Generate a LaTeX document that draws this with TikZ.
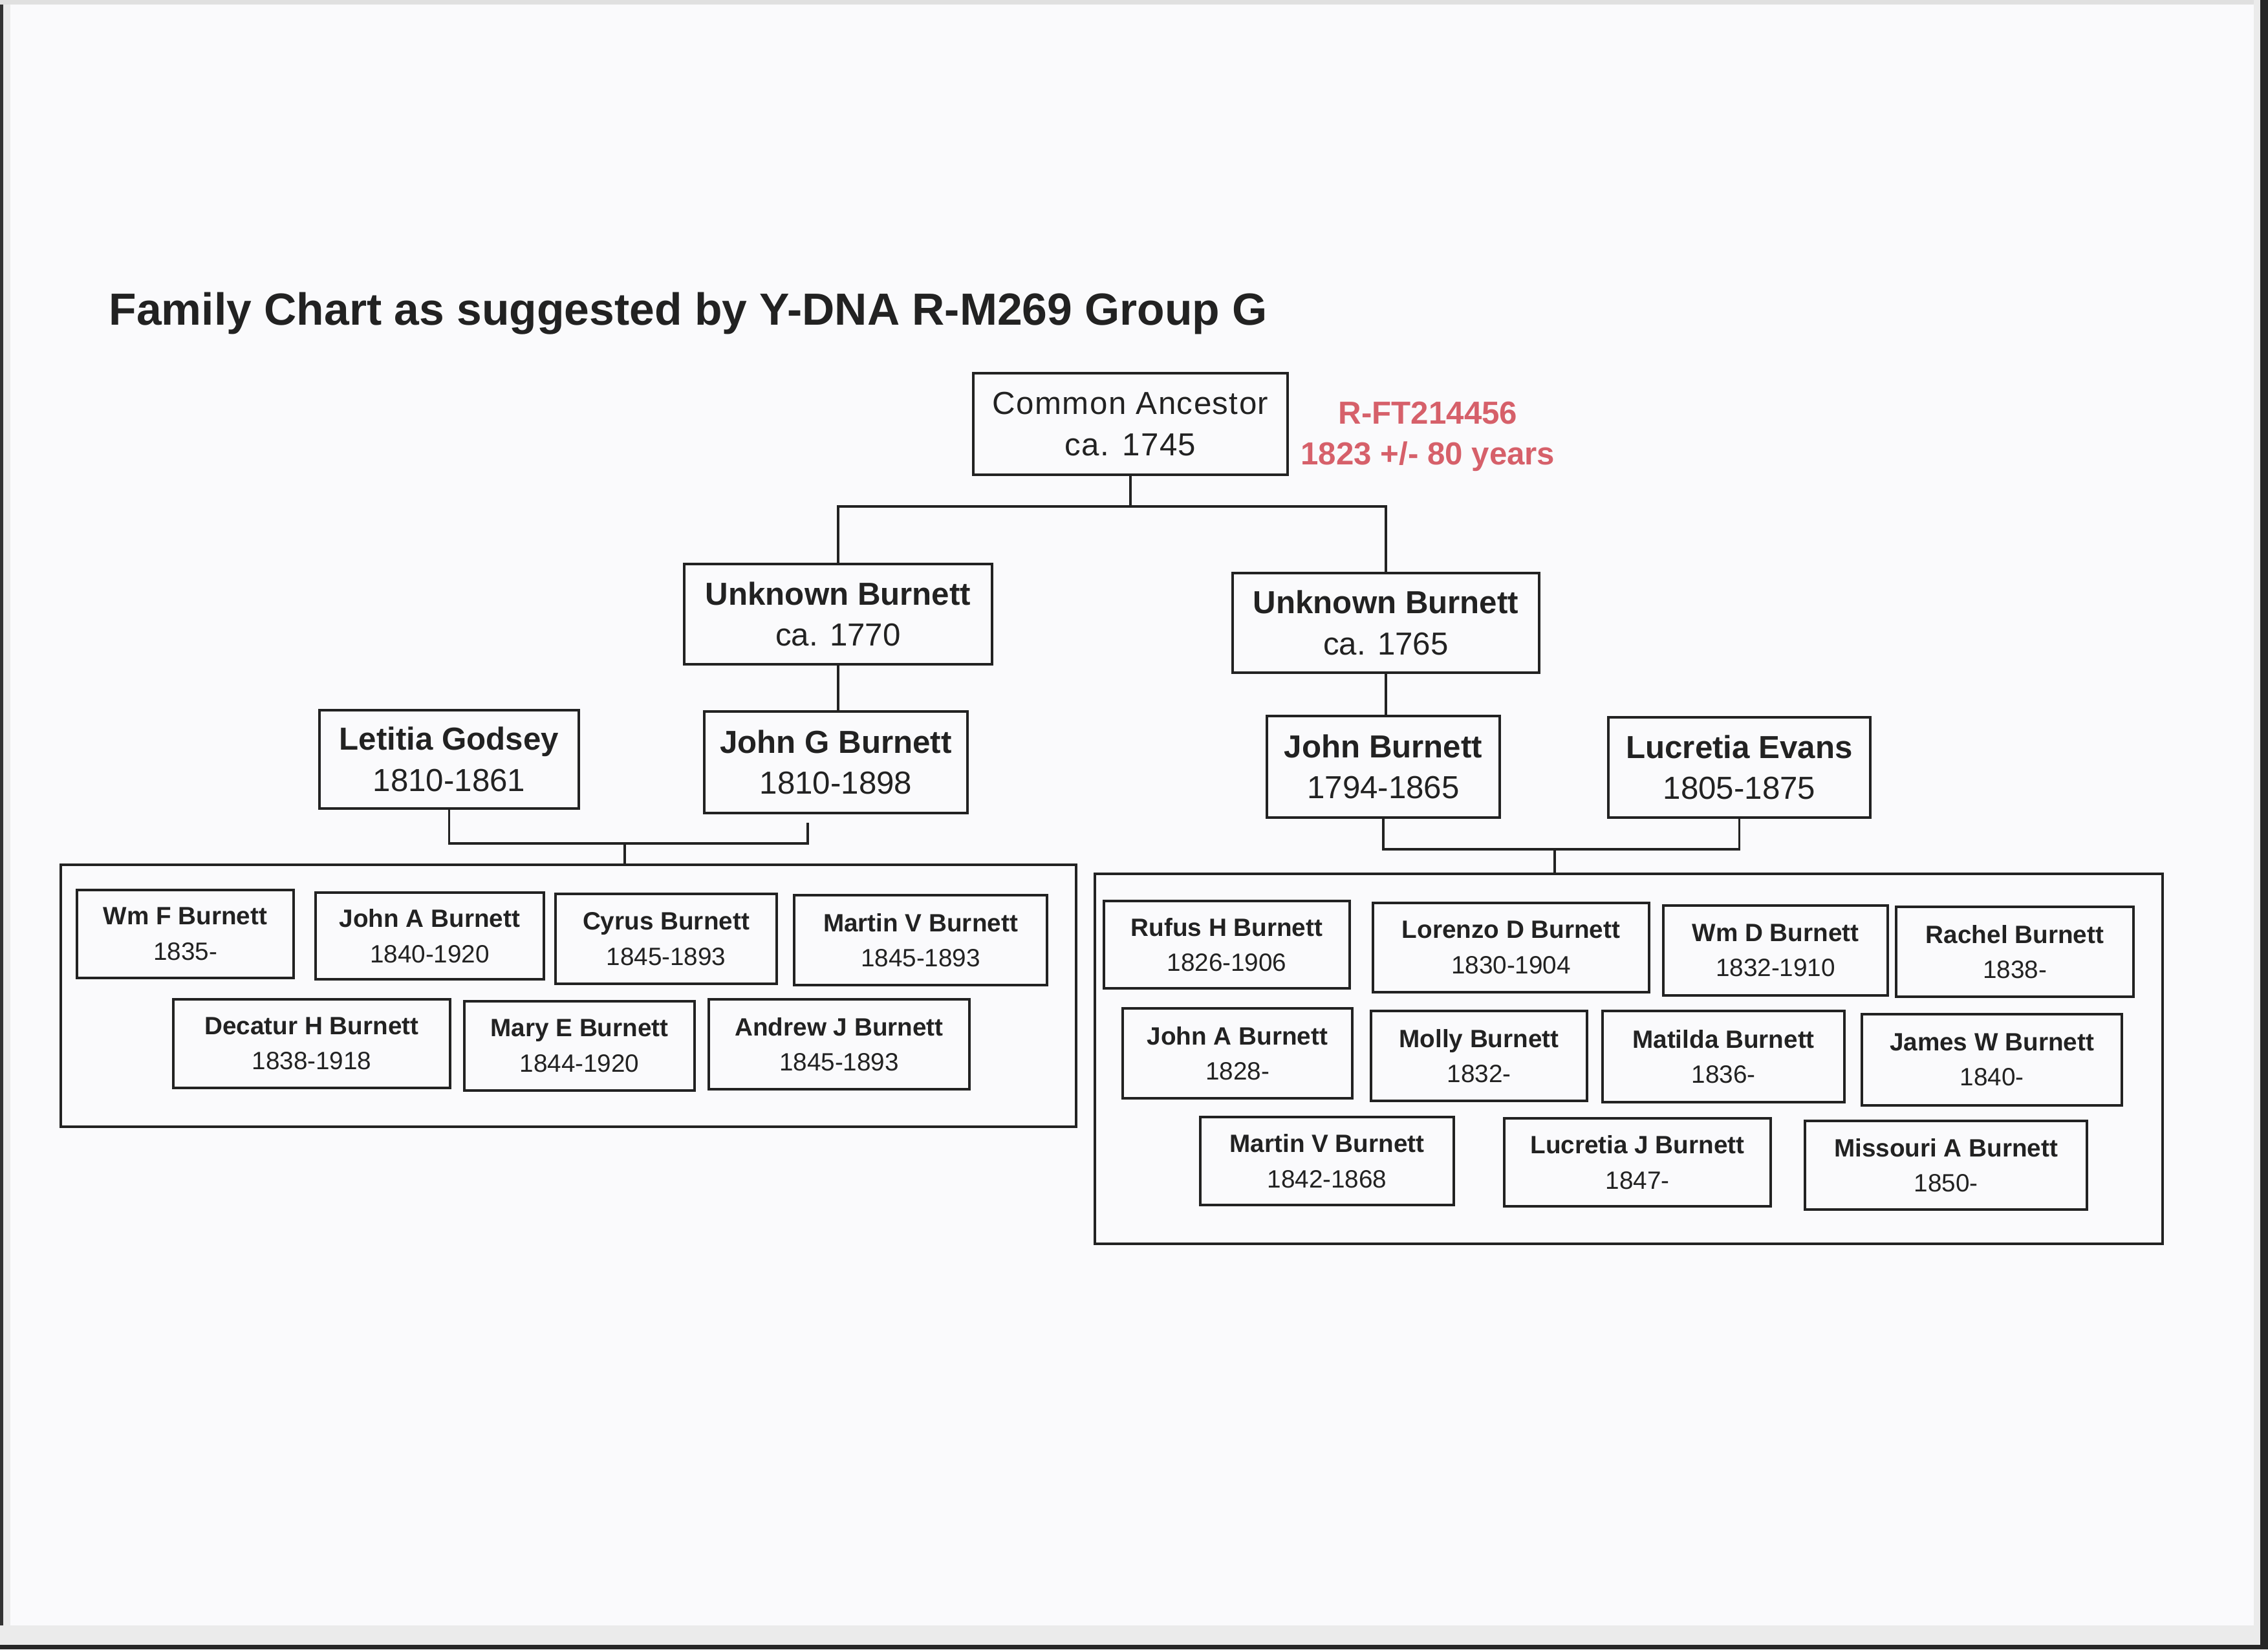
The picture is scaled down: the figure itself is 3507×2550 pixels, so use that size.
\documentclass[tikz,border=0pt]{standalone}
\usepackage{fontspec}
\setmainfont{Liberation Sans}
\definecolor{paper}{HTML}{FAFAFC}
\definecolor{ink}{HTML}{222222}
\definecolor{redtxt}{HTML}{D6606A}
\newcommand\upname[2]{\textbf{#1}\\#2}
\newcommand\kidname[2]{\textbf{#1}\\#2}
% \pbox{style}{name}{x1}{y1}{x2}{y2}{content}
\newcommand\pbox[7]{%
  \node[#1, minimum width={(#5-#3)*0.01cm}, minimum height={(#6-#4)*0.01cm}]
    (#2) at ({(#3+#5)/2},{(#4+#6)/2}) {#7};}
\tikzset{
  pboxst/.style={draw=ink, line width=0.9pt, inner sep=0pt, outer sep=0pt, align=center, text=ink},
  upperbox/.style={pboxst, font=\fontsize{14}{18}\selectfont},
  childbox/.style={pboxst, font=\fontsize{11}{15.5}\selectfont},
  fambox/.style={draw=ink, line width=1.3pt, inner sep=0pt, outer sep=0pt},
  conn/.style={draw=ink, line width=0.9pt},
}
\begin{document}
\begin{tikzpicture}[x=0.01cm, y=-0.01cm]
\useasboundingbox (0,0) rectangle (3507,2550);
% paper / scan edges
\fill[paper] (0,0) rectangle (3507,2550);
\fill[black!80] (0,0) rectangle (5,2550);
\fill[black!8] (5,0) rectangle (16,2550);
\fill[black!12] (0,0) rectangle (3507,7);
\fill[black!8] (0,2513) rectangle (3507,2543);
\fill[black!85] (0,2543) rectangle (3507,2550);
\fill[black!85] (3495,0) rectangle (3507,2550);
\fill[black!8] (3485,0) rectangle (3495,2543);

% title
\node[anchor=base west, font=\fontsize{19.8}{24}\selectfont\bfseries, text=ink, inner sep=0pt] (title) at (168,502)
  {Family Chart as suggested by Y-DNA R-M269 Group G};

% top
\pbox{upperbox}{CA}{1505}{577}{1991}{734}
  {\addfontfeatures{LetterSpace=3}Common Ancestor\\\addfontfeatures{LetterSpace=3}ca. 1745}
\node[align=center, text=redtxt, font=\fontsize{14}{17.9}\selectfont\bfseries, inner sep=0pt] (hap) at (2208,675)
  {R-FT214456\\1823 +/- 80 years};

\pbox{upperbox}{UBL}{1058}{872}{1534}{1027}{\upname{Unknown Burnett}{ca. 1770}}
\pbox{upperbox}{UBR}{1906}{886}{2380}{1040}{\upname{Unknown Burnett}{ca. 1765}}

\pbox{upperbox}{LG}{494}{1098}{895}{1250}{\upname{Letitia Godsey}{1810-1861}}
\pbox{upperbox}{JG}{1089}{1100}{1496}{1257}{\upname{John G Burnett}{1810-1898}}
\pbox{upperbox}{JB}{1959}{1107}{2319}{1264}{\upname{John Burnett}{1794-1865}}
\pbox{upperbox}{LE}{2487}{1109}{2892}{1264}{\upname{Lucretia Evans}{1805-1875}}

% family boxes
\pbox{fambox}{FL}{94}{1337}{1664}{1742}{}
\pbox{fambox}{FR}{1693}{1351}{3344}{1923}{}

% left children
\pbox{childbox}{wmf}{119}{1376}{454}{1512}{\kidname{Wm F Burnett}{1835-}}
\pbox{childbox}{johna}{488}{1380}{841}{1514}{\kidname{John A Burnett}{1840-1920}}
\pbox{childbox}{cyrus}{859}{1382}{1201}{1521}{\kidname{Cyrus Burnett}{1845-1893}}
\pbox{childbox}{martinv}{1228}{1384}{1619}{1523}{\kidname{Martin V Burnett}{1845-1893}}
\pbox{childbox}{decatur}{268}{1545}{696}{1682}{\kidname{Decatur H Burnett}{1838-1918}}
\pbox{childbox}{marye}{718}{1548}{1074}{1686}{\kidname{Mary E Burnett}{1844-1920}}
\pbox{childbox}{andrewj}{1096}{1545}{1499}{1684}{\kidname{Andrew J Burnett}{1845-1893}}

% right children
\pbox{childbox}{rufus}{1707}{1393}{2087}{1528}{\kidname{Rufus H Burnett}{1826-1906}}
\pbox{childbox}{lorenzo}{2123}{1396}{2550}{1534}{\kidname{Lorenzo D Burnett}{1830-1904}}
\pbox{childbox}{wmd}{2572}{1400}{2919}{1539}{\kidname{Wm D Burnett}{1832-1910}}
\pbox{childbox}{rachel}{2932}{1402}{3299}{1541}{\kidname{Rachel Burnett}{1838-}}
\pbox{childbox}{johnab}{1736}{1559}{2091}{1698}{\kidname{John A Burnett}{1828-}}
\pbox{childbox}{molly}{2120}{1563}{2454}{1702}{\kidname{Molly Burnett}{1832-}}
\pbox{childbox}{matilda}{2478}{1563}{2852}{1704}{\kidname{Matilda Burnett}{1836-}}
\pbox{childbox}{jamesw}{2879}{1568}{3281}{1709}{\kidname{James W Burnett}{1840-}}
\pbox{childbox}{martinvb}{1856}{1727}{2248}{1863}{\kidname{Martin V Burnett}{1842-1868}}
\pbox{childbox}{lucretiaj}{2326}{1729}{2738}{1865}{\kidname{Lucretia J Burnett}{1847-}}
\pbox{childbox}{missouri}{2791}{1733}{3227}{1870}{\kidname{Missouri A Burnett}{1850-}}

% connectors
\coordinate (jA) at (1748,783);
\draw[conn] (CA.south) -- (jA);
\draw[conn] (UBL.north) |- (jA) -| (UBR.north);
\draw[conn] (UBL.south) -- (UBL.south |- JG.north);
\draw[conn] (UBR.south) -- (UBR.south |- JB.north);

\coordinate (hL) at (966,1304);
\coordinate (cpL) at (1249,1272);
\draw[conn] (LG.south) |- (hL) -| (cpL);
\draw[conn] (hL) -- (hL |- FL.north);

\coordinate (hR) at (2404,1313);
\draw[conn] (JB.south) |- (hR) -| (LE.south);
\draw[conn] (hR) -- (hR |- FR.north);
\end{tikzpicture}
\end{document}
